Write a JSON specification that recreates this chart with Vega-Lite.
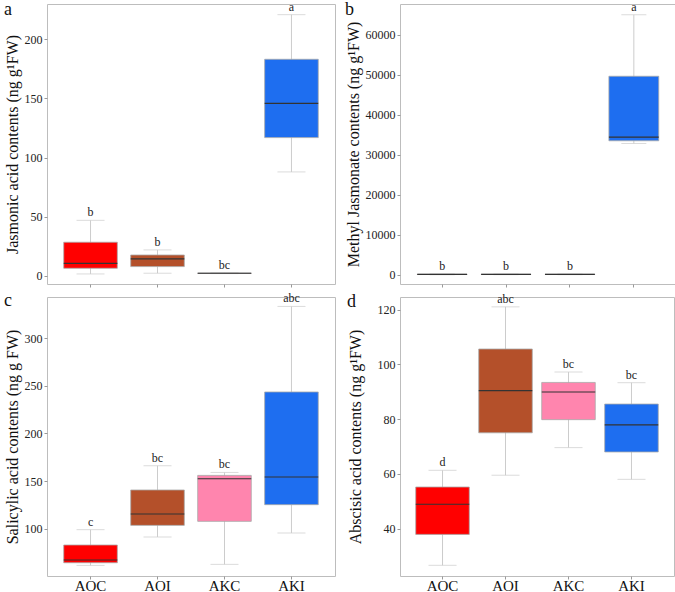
{
  "$schema": "https://vega.github.io/schema/vega-lite/v6.json",
  "padding": {"left": 3, "top": 0, "right": 2, "bottom": 0},
  "background": "white",
  "config": {
    "font": "Times New Roman, Liberation Serif, DejaVu Serif, serif",
    "view": {"stroke": "#BDBDBD", "strokeWidth": 1},
    "axis": {"domain": false, "grid": false, "tickColor": "#999999", "tickSize": 3, "labelFont": "Times New Roman, Liberation Serif, DejaVu Serif, serif", "labelFontSize": 12, "labelColor": "#222222", "titleFont": "Times New Roman, Liberation Serif, DejaVu Serif, serif", "titleFontSize": 16, "titleFontWeight": "normal", "titleColor": "#111111", "labelPadding": 2, "titlePadding": 4},
    "title": {"font": "Times New Roman, Liberation Serif, DejaVu Serif, serif", "fontSize": 18, "fontWeight": "normal", "anchor": "start", "frame": "bounds", "offset": -18, "baseline": "alphabetic", "color": "#111111"},
    "text": {"font": "Times New Roman, Liberation Serif, DejaVu Serif, serif"}
  },
  "datasets": {
    "a": [
      {"group": "AOC", "low": 1.7, "q1": 6.5, "median": 10.7, "q3": 28.5, "high": 47, "label": "b"},
      {"group": "AOI", "low": 2.3, "q1": 7.9, "median": 14.4, "q3": 17.7, "high": 22, "label": "b"},
      {"group": "AKC", "low": 2.0, "q1": 2.2, "median": 2.3, "q3": 2.4, "high": 2.6, "label": "bc"},
      {"group": "AKI", "low": 87.9, "q1": 116.9, "median": 145.9, "q3": 183.1, "high": 220.8, "label": "a"}
    ],
    "b": [
      {"group": "AOC", "low": 0, "q1": 40, "median": 80, "q3": 110, "high": 150, "label": "b"},
      {"group": "AOI", "low": 0, "q1": 40, "median": 80, "q3": 110, "high": 150, "label": "b"},
      {"group": "AKC", "low": 0, "q1": 40, "median": 80, "q3": 110, "high": 150, "label": "b"},
      {"group": "AKI", "low": 32810, "q1": 33490, "median": 34400, "q3": 49640, "high": 65020, "label": "a"}
    ],
    "c": [
      {"group": "AOC", "low": 61.5, "q1": 64.3, "median": 67.2, "q3": 82.9, "high": 99.0, "label": "c"},
      {"group": "AOI", "low": 91.3, "q1": 103.5, "median": 115.4, "q3": 140.6, "high": 166, "label": "bc"},
      {"group": "AKC", "low": 62.6, "q1": 107.7, "median": 152.4, "q3": 155.9, "high": 159, "label": "bc"},
      {"group": "AKI", "low": 95.5, "q1": 125.2, "median": 154.2, "q3": 243.4, "high": 333.1, "label": "abc"}
    ],
    "d": [
      {"group": "AOC", "low": 26.6, "q1": 37.9, "median": 48.9, "q3": 55.2, "high": 61.3, "label": "d"},
      {"group": "AOI", "low": 59.5, "q1": 75.0, "median": 90.4, "q3": 105.6, "high": 121.0, "label": "abc"},
      {"group": "AKC", "low": 69.6, "q1": 79.8, "median": 89.9, "q3": 93.4, "high": 97.2, "label": "bc"},
      {"group": "AKI", "low": 58.0, "q1": 68.0, "median": 77.9, "q3": 85.5, "high": 93.3, "label": "bc"}
    ]
  },
  "columns": 2,
  "spacing": {"row": 3, "column": 8},
  "concat": [
    {
      "width": 288, "height": 280,
      "title": {"text": "a"},
      "data": {"name": "a"},
      "encoding": {"x": {"field": "group", "type": "nominal", "sort": ["AOC", "AOI", "AKC", "AKI"], "scale": {"paddingInner": 0.2, "paddingOuter": 0.25}, "axis": {"title": null, "labels": false}}},
      "layer": [
        {"mark": {"type": "rule", "color": "#CCCCCC", "strokeWidth": 1}, "encoding": {"y": {"field": "low", "type": "quantitative", "title": "Jasmonic acid contents (ng g¹FW)", "scale": {"domain": [-6.8, 229.8], "nice": false, "zero": false}, "axis": {"values": [0, 50, 100, 150, 200]}}, "y2": {"field": "high"}}},
        {"mark": {"type": "tick", "color": "#CCCCCC", "size": 28, "thickness": 1}, "encoding": {"y": {"field": "low", "type": "quantitative", "title": "Jasmonic acid contents (ng g¹FW)"}}},
        {"mark": {"type": "tick", "color": "#CCCCCC", "size": 28, "thickness": 1}, "encoding": {"y": {"field": "high", "type": "quantitative", "title": "Jasmonic acid contents (ng g¹FW)"}}},
        {"mark": {"type": "bar", "stroke": "#A8A8A8", "strokeWidth": 0.8}, "encoding": {"y": {"field": "q1", "type": "quantitative", "title": "Jasmonic acid contents (ng g¹FW)"}, "y2": {"field": "q3"}, "color": {"field": "group", "type": "nominal", "scale": {"domain": ["AOC", "AOI", "AKC", "AKI"], "range": ["#FF0000", "#B4502A", "#FF85AE", "#1E6EF0"]}, "legend": null}}},
        {"mark": {"type": "bar", "stroke": "#333333", "strokeWidth": 1.2, "fillOpacity": 0}, "encoding": {"y": {"field": "median", "type": "quantitative", "title": "Jasmonic acid contents (ng g¹FW)"}, "y2": {"field": "median"}}},
        {"mark": {"type": "text", "baseline": "bottom", "dy": -1, "fontSize": 12, "color": "#222222"}, "encoding": {"y": {"field": "high", "type": "quantitative", "title": "Jasmonic acid contents (ng g¹FW)"}, "text": {"field": "label"}}}
      ]
    },
    {
      "width": 276, "height": 280,
      "title": {"text": "b"},
      "data": {"name": "b"},
      "encoding": {"x": {"field": "group", "type": "nominal", "sort": ["AOC", "AOI", "AKC", "AKI"], "scale": {"paddingInner": 0.22, "paddingOuter": 0.27}, "axis": {"title": null, "labels": false}}},
      "layer": [
        {"mark": {"type": "rule", "color": "#CCCCCC", "strokeWidth": 1}, "encoding": {"y": {"field": "low", "type": "quantitative", "title": "Methyl Jasmonate contents (ng g¹FW)", "scale": {"domain": [-2335, 67712], "nice": false, "zero": false}, "axis": {"values": [0, 10000, 20000, 30000, 40000, 50000, 60000], "format": "d"}}, "y2": {"field": "high"}}},
        {"mark": {"type": "tick", "color": "#CCCCCC", "size": 25, "thickness": 1}, "encoding": {"y": {"field": "low", "type": "quantitative", "title": "Methyl Jasmonate contents (ng g¹FW)"}}},
        {"mark": {"type": "tick", "color": "#CCCCCC", "size": 25, "thickness": 1}, "encoding": {"y": {"field": "high", "type": "quantitative", "title": "Methyl Jasmonate contents (ng g¹FW)"}}},
        {"mark": {"type": "bar", "stroke": "#A8A8A8", "strokeWidth": 0.8}, "encoding": {"y": {"field": "q1", "type": "quantitative", "title": "Methyl Jasmonate contents (ng g¹FW)"}, "y2": {"field": "q3"}, "color": {"field": "group", "type": "nominal", "scale": {"domain": ["AOC", "AOI", "AKC", "AKI"], "range": ["#FF0000", "#B4502A", "#FF85AE", "#1E6EF0"]}, "legend": null}}},
        {"mark": {"type": "bar", "stroke": "#333333", "strokeWidth": 1.2, "fillOpacity": 0}, "encoding": {"y": {"field": "median", "type": "quantitative", "title": "Methyl Jasmonate contents (ng g¹FW)"}, "y2": {"field": "median"}}},
        {"mark": {"type": "text", "baseline": "bottom", "dy": -1, "fontSize": 12, "color": "#222222"}, "encoding": {"y": {"field": "high", "type": "quantitative", "title": "Methyl Jasmonate contents (ng g¹FW)"}, "text": {"field": "label"}}}
      ]
    },
    {
      "width": 288, "height": 279,
      "title": {"text": "c"},
      "data": {"name": "c"},
      "encoding": {"x": {"field": "group", "type": "nominal", "sort": ["AOC", "AOI", "AKC", "AKI"], "scale": {"paddingInner": 0.2, "paddingOuter": 0.25}, "axis": {"title": null, "labelFontSize": 15, "labelAngle": 0, "labelPadding": -1, "labelColor": "#111111"}}},
      "layer": [
        {"mark": {"type": "rule", "color": "#CCCCCC", "strokeWidth": 1}, "encoding": {"y": {"field": "low", "type": "quantitative", "title": "Salicylic acid contents (ng g FW)", "scale": {"domain": [50.4, 343], "nice": false, "zero": false}, "axis": {"values": [100, 150, 200, 250, 300]}}, "y2": {"field": "high"}}},
        {"mark": {"type": "tick", "color": "#CCCCCC", "size": 28, "thickness": 1}, "encoding": {"y": {"field": "low", "type": "quantitative", "title": "Salicylic acid contents (ng g FW)"}}},
        {"mark": {"type": "tick", "color": "#CCCCCC", "size": 28, "thickness": 1}, "encoding": {"y": {"field": "high", "type": "quantitative", "title": "Salicylic acid contents (ng g FW)"}}},
        {"mark": {"type": "bar", "stroke": "#A8A8A8", "strokeWidth": 0.8}, "encoding": {"y": {"field": "q1", "type": "quantitative", "title": "Salicylic acid contents (ng g FW)"}, "y2": {"field": "q3"}, "color": {"field": "group", "type": "nominal", "scale": {"domain": ["AOC", "AOI", "AKC", "AKI"], "range": ["#FF0000", "#B4502A", "#FF85AE", "#1E6EF0"]}, "legend": null}}},
        {"mark": {"type": "bar", "stroke": "#333333", "strokeWidth": 1.2, "fillOpacity": 0}, "encoding": {"y": {"field": "median", "type": "quantitative", "title": "Salicylic acid contents (ng g FW)"}, "y2": {"field": "median"}}},
        {"mark": {"type": "text", "baseline": "bottom", "dy": -1, "fontSize": 12, "color": "#222222"}, "encoding": {"y": {"field": "high", "type": "quantitative", "title": "Salicylic acid contents (ng g FW)"}, "text": {"field": "label"}}}
      ]
    },
    {
      "width": 274, "height": 279,
      "title": {"text": "d"},
      "data": {"name": "d"},
      "encoding": {"x": {"field": "group", "type": "nominal", "sort": ["AOC", "AOI", "AKC", "AKI"], "scale": {"paddingInner": 0.15, "paddingOuter": 0.25}, "axis": {"title": null, "labelFontSize": 15, "labelAngle": 0, "labelPadding": -1, "labelColor": "#111111"}}},
      "layer": [
        {"mark": {"type": "rule", "color": "#CCCCCC", "strokeWidth": 1}, "encoding": {"y": {"field": "low", "type": "quantitative", "title": "Abscisic acid contents (ng g¹FW)", "scale": {"domain": [22.7, 124.6], "nice": false, "zero": false}, "axis": {"values": [40, 60, 80, 100, 120], "titlePadding": 14}}, "y2": {"field": "high"}}},
        {"mark": {"type": "tick", "color": "#CCCCCC", "size": 28, "thickness": 1}, "encoding": {"y": {"field": "low", "type": "quantitative", "title": "Abscisic acid contents (ng g¹FW)"}}},
        {"mark": {"type": "tick", "color": "#CCCCCC", "size": 28, "thickness": 1}, "encoding": {"y": {"field": "high", "type": "quantitative", "title": "Abscisic acid contents (ng g¹FW)"}}},
        {"mark": {"type": "bar", "stroke": "#A8A8A8", "strokeWidth": 0.8}, "encoding": {"y": {"field": "q1", "type": "quantitative", "title": "Abscisic acid contents (ng g¹FW)"}, "y2": {"field": "q3"}, "color": {"field": "group", "type": "nominal", "scale": {"domain": ["AOC", "AOI", "AKC", "AKI"], "range": ["#FF0000", "#B4502A", "#FF85AE", "#1E6EF0"]}, "legend": null}}},
        {"mark": {"type": "bar", "stroke": "#333333", "strokeWidth": 1.2, "fillOpacity": 0}, "encoding": {"y": {"field": "median", "type": "quantitative", "title": "Abscisic acid contents (ng g¹FW)"}, "y2": {"field": "median"}}},
        {"mark": {"type": "text", "baseline": "bottom", "dy": -1, "fontSize": 12, "color": "#222222"}, "encoding": {"y": {"field": "high", "type": "quantitative", "title": "Abscisic acid contents (ng g¹FW)"}, "text": {"field": "label"}}}
      ]
    }
  ]
}
